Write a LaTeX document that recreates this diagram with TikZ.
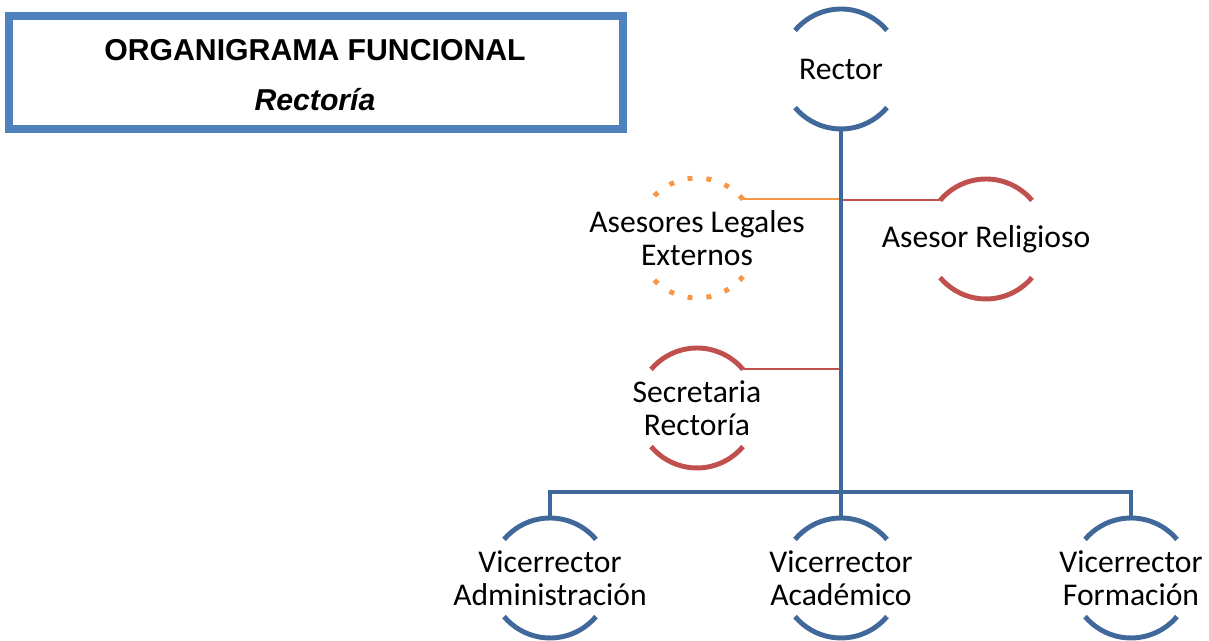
\documentclass[tikz,border=0pt]{standalone}
\usepackage{fontspec}
\setmainfont{Carlito}
\newfontfamily\titlefont{Liberation Sans}
\usepackage{tikz}
\usetikzlibrary{positioning, calc}
\definecolor{RectorBlue}{HTML}{41689A}
\definecolor{AdvisorRed}{HTML}{C0504D}
\definecolor{LegalOrange}{HTML}{F79646}
\definecolor{FrameBlue}{HTML}{4F81BD}
% top and bottom arcs of a unit circle
\newcommand{\unitarcs}[2]{%
  \draw[#2] (#1.40) arc[start angle=40, end angle=140, radius=1.2cm];
  \draw[#2] (#1.-40) arc[start angle=-40, end angle=-140, radius=1.2cm];
}

\begin{document}
\begin{tikzpicture}[x=0.02cm, y=0.02cm,
    unit/.style={circle, minimum size=2.4cm, inner sep=0pt, outer sep=0pt},
    caption/.style={align=center, font=\fontsize{18}{19}\selectfont},
    arcline/.style={line width=2.8pt},
    link/.style={line width=1.2pt}]
    \useasboundingbox (0,0) rectangle (1209,641);

    % Title box
    \draw[FrameBlue, line width=4.5pt] (9,512) rectangle (623,625);
    \node[font=\titlefont\fontsize{17.2}{19}\selectfont\bfseries] (title) at (315,591) {ORGANIGRAMA FUNCIONAL};
    \node[font=\titlefont\fontsize{17.2}{19}\selectfont\bfseries\itshape] (subtitle) at (315,541) {Rectoría};

    % Units
    \node[unit, label={[caption]center:Rector}] (rector) at (841,572) {};
    \node[unit, label={[caption]center:Asesores Legales\\Externos}] (legal) at (697,403) {};
    \node[unit, label={[caption]center:Asesor Religioso}] (relig) at (986,402) {};
    \node[unit, label={[caption]center:Secretaria\\Rectoría}] (secre) at (697,233) {};
    \node[unit, label={[caption]center:Vicerrector\\Administración}] (vadmin) at (550,63) {};
    \node[unit, label={[caption]center:Vicerrector\\Académico}] (vacad) at (841,63) {};
    \node[unit, label={[caption]center:Vicerrector\\Formación}] (vform) at (1131,63) {};

    % Staff links
    \draw[LegalOrange, link] (legal.40) -- (legal.40 -| rector.south);
    \draw[AdvisorRed, link] (relig.140) -- (relig.140 -| rector.south);
    \draw[AdvisorRed, link] (secre.40) -- (secre.40 -| rector.south);

    % Line of command
    \draw[RectorBlue, arcline] (rector.south) -- (vacad.north);
    \draw[RectorBlue, arcline] (vadmin.north) -- ++(0,26) -| (vform.north);

    % Arcs
    \unitarcs{rector}{RectorBlue, arcline}
    \unitarcs{vadmin}{RectorBlue, arcline}
    \unitarcs{vacad}{RectorBlue, arcline}
    \unitarcs{vform}{RectorBlue, arcline}
    \unitarcs{relig}{AdvisorRed, arcline}
    \unitarcs{secre}{AdvisorRed, arcline}
    \unitarcs{legal}{LegalOrange, arcline, dash pattern=on 2.8pt off 8pt}
\end{tikzpicture}
\end{document}
